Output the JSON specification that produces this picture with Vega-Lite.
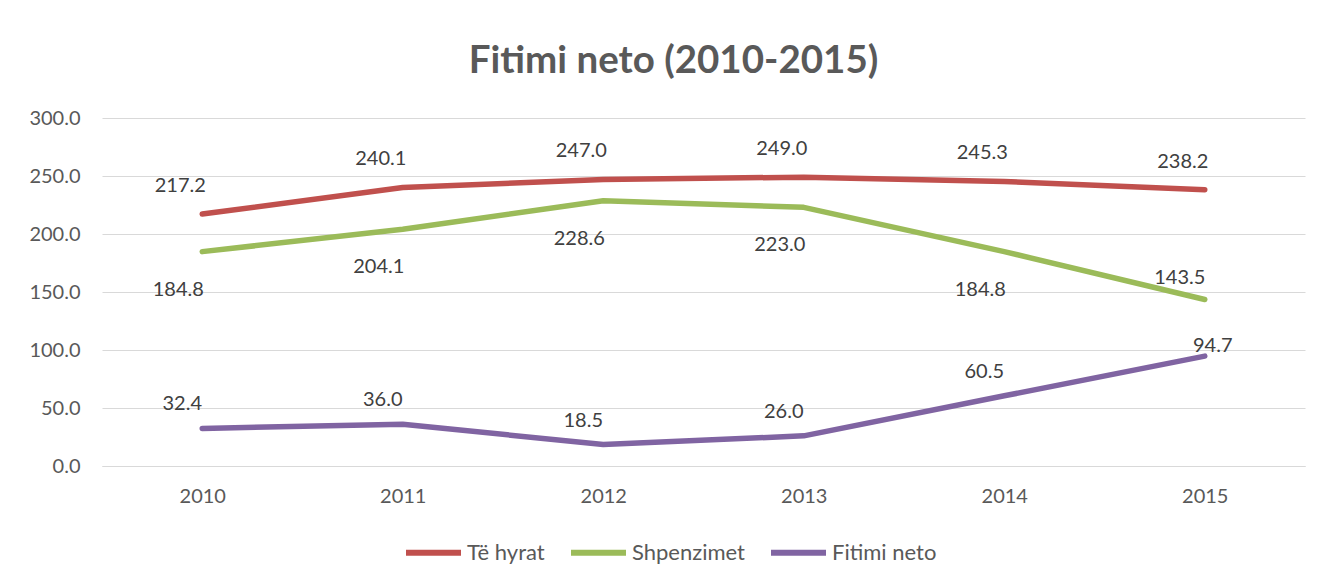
{
  "$schema": "https://vega.github.io/schema/vega-lite/v6.json",
  "autosize": "none",
  "width": 1203,
  "height": 348,
  "padding": {"left": 102, "top": 118, "right": 29, "bottom": 112},
  "background": "white",
  "config": {
    "view": {"stroke": null},
    "font": "Lato"
  },
  "title": {
    "text": "Fitimi neto (2010-2015)",
    "font": "Lato",
    "fontSize": 38.5,
    "fontWeight": "bold",
    "color": "#595959",
    "anchor": "middle",
    "dx": -30,
    "offset": 27
  },
  "data": {
    "values": [
      {"year": "2010", "series": "Të hyrat", "value": 217.2},
      {"year": "2011", "series": "Të hyrat", "value": 240.1},
      {"year": "2012", "series": "Të hyrat", "value": 247.0},
      {"year": "2013", "series": "Të hyrat", "value": 249.0},
      {"year": "2014", "series": "Të hyrat", "value": 245.3},
      {"year": "2015", "series": "Të hyrat", "value": 238.2},
      {"year": "2010", "series": "Shpenzimet", "value": 184.8},
      {"year": "2011", "series": "Shpenzimet", "value": 204.1},
      {"year": "2012", "series": "Shpenzimet", "value": 228.6},
      {"year": "2013", "series": "Shpenzimet", "value": 223.0},
      {"year": "2014", "series": "Shpenzimet", "value": 184.8},
      {"year": "2015", "series": "Shpenzimet", "value": 143.5},
      {"year": "2010", "series": "Fitimi neto", "value": 32.4},
      {"year": "2011", "series": "Fitimi neto", "value": 36.0},
      {"year": "2012", "series": "Fitimi neto", "value": 18.5},
      {"year": "2013", "series": "Fitimi neto", "value": 26.0},
      {"year": "2014", "series": "Fitimi neto", "value": 60.5},
      {"year": "2015", "series": "Fitimi neto", "value": 94.7}
    ]
  },
  "encoding": {
    "x": {
      "field": "year",
      "type": "ordinal",
      "scale": {"type": "point", "padding": 0.5},
      "axis": {
        "title": null,
        "labelAngle": 0,
        "labelFont": "Lato",
        "labelFontSize": 20,
        "labelColor": "#595959",
        "labelPadding": 20,
        "ticks": false,
        "domain": true,
        "domainColor": "#d9d9d9",
        "domainWidth": 1
      }
    },
    "y": {
      "field": "value",
      "type": "quantitative",
      "scale": {"domain": [0, 300], "nice": false},
      "axis": {
        "title": null,
        "values": [0, 50, 100, 150, 200, 250, 300],
        "format": ".1f",
        "labelFont": "Lato",
        "labelFontSize": 20,
        "labelColor": "#595959",
        "labelPadding": 22,
        "ticks": false,
        "domain": false,
        "gridColor": "#d9d9d9",
        "gridWidth": 1.2
      }
    }
  },
  "layer": [
    {
      "mark": {"type": "line", "strokeWidth": 5.5, "strokeCap": "round", "strokeJoin": "round"},
      "encoding": {
        "color": {
          "field": "series",
          "type": "nominal",
          "scale": {
            "domain": ["Të hyrat", "Shpenzimet", "Fitimi neto"],
            "range": ["#C0504D", "#9BBB59", "#8064A2"]
          },
          "legend": {
            "title": null,
            "orient": "none",
            "direction": "horizontal",
            "legendX": 301,
            "legendY": 404,
            "symbolType": "stroke",
            "symbolSize": 3025,
            "symbolStrokeWidth": 6,
            "labelFont": "Lato",
            "labelFontSize": 22,
            "labelColor": "#595959",
            "labelOffset": 3,
            "columnPadding": 14
          }
        }
      }
    },
    {
      "transform": [{"filter": "datum.series === 'Të hyrat'"}],
      "mark": {"type": "text", "font": "Lato", "fontSize": 20, "color": "#404040", "dy": -28, "dx": -22},
      "encoding": {"text": {"field": "value", "type": "quantitative", "format": ".1f"}}
    },
    {
      "transform": [{"filter": "datum.series === 'Shpenzimet' && datum.year !== '2015'"}],
      "mark": {"type": "text", "font": "Lato", "fontSize": 20, "color": "#404040", "dy": 38, "dx": -24},
      "encoding": {"text": {"field": "value", "type": "quantitative", "format": ".1f"}}
    },
    {
      "transform": [{"filter": "datum.series === 'Shpenzimet' && datum.year === '2015'"}],
      "mark": {"type": "text", "font": "Lato", "fontSize": 20, "color": "#404040", "dy": -22, "dx": -25},
      "encoding": {"text": {"field": "value", "type": "quantitative", "format": ".1f"}}
    },
    {
      "transform": [{"filter": "datum.series === 'Fitimi neto' && datum.year !== '2015'"}],
      "mark": {"type": "text", "font": "Lato", "fontSize": 20, "color": "#404040", "dy": -24, "dx": -20},
      "encoding": {"text": {"field": "value", "type": "quantitative", "format": ".1f"}}
    },
    {
      "transform": [{"filter": "datum.series === 'Fitimi neto' && datum.year === '2015'"}],
      "mark": {"type": "text", "font": "Lato", "fontSize": 20, "color": "#404040", "dy": -10, "dx": 8},
      "encoding": {"text": {"field": "value", "type": "quantitative", "format": ".1f"}}
    }
  ]
}
